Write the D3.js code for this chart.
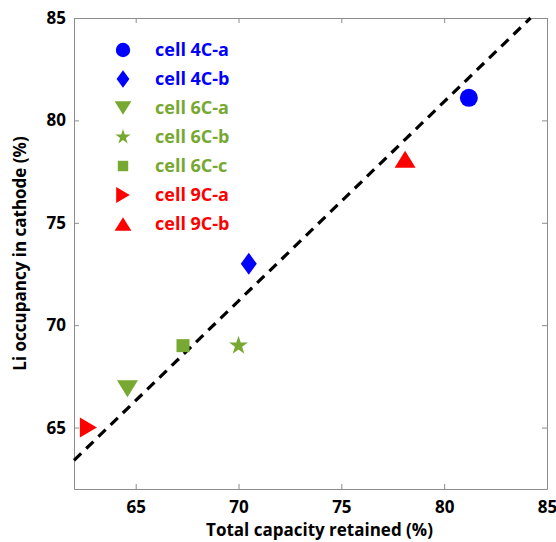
<!DOCTYPE html>
<html>
<head>
<meta charset="utf-8">
<title>Li occupancy vs capacity retained</title>
<script src="https://d3js.org/d3.v7.min.js"></script>
<style>
  body { margin: 0; background: #fff; }
  svg { font-family: "Open Sans", sans-serif; }
  .axis path, .axis line { stroke: #8c8c8c; }
  .axis text { fill: #000; font-size: 17px; font-weight: bold; font-family: "Open Sans", sans-serif; }
</style>
</head>
<body>
<script>
// values
var cells = ["cell 4C-a", "cell 4C-b", "cell 6C-a", "cell 6C-b", "cell 6C-c", "cell 9C-a", "cell 9C-b"];
var capacity = [81.2, 70.5, 64.6, 70.0, 67.3, 62.7, 78.1];   // Total capacity retained (%)
var occupancy = [81.1, 73.0, 66.9, 69.0, 69.0, 65.0, 78.1];  // Li occupancy in cathode (%)
var shapes = ["circle", "diamond", "triDown", "star", "square", "triRight", "triUp"];
var colors = ["#0000ff", "#0000ff", "#76a832", "#76a832", "#76a832", "#ff0000", "#ff0000"];
var ticks = [65, 70, 75, 80, 85];
var fitX = [62, 84.2];
var fitY = [63.4, 85];

var margin = {top: 18, right: 9, bottom: 53, left: 74},
    width = 556 - margin.left - margin.right,
    height = 542 - margin.top - margin.bottom;

var x = d3.scaleLinear().domain([62, 85]).range([0, width]);
var y = d3.scaleLinear().domain([62, 85]).range([height, 0]);

var svg = d3.select("body").append("svg")
    .attr("width", 556)
    .attr("height", 542)
  .append("g")
    .attr("transform", "translate(" + margin.left + "," + margin.top + ")");

// marker outlines, k = scale
function marker(shape, k) {
  var p = d3.path();
  if (shape == "circle") { p.arc(0, 0, 9 * k, 0, 2 * Math.PI); return p.toString(); }
  if (shape == "star") return d3.symbol(d3.symbolStar, 110 * k * k)();
  if (shape == "square") { var s = 6.5 * k; p.rect(-s, -s, 2 * s, 2 * s); return p.toString(); }
  var pts;
  if (shape == "diamond") pts = [[0, -11], [8, 0], [0, 11], [-8, 0]];
  if (shape == "triDown") pts = [[-10.5, -8.5], [10.5, -8.5], [0, 8.5]];
  if (shape == "triUp") pts = [[-10.5, 8.5], [10.5, 8.5], [0, -8.5]];
  if (shape == "triRight") pts = [[-8.5, -10], [8.5, 0], [-8.5, 10]];
  pts.forEach(function(q, i) {
    if (i == 0) p.moveTo(q[0] * k, q[1] * k); else p.lineTo(q[0] * k, q[1] * k);
  });
  p.closePath();
  return p.toString();
}

// axes with inward ticks, box on all sides
svg.append("g")
    .attr("class", "axis")
    .attr("transform", "translate(0," + height + ")")
    .call(d3.axisBottom(x).tickValues(ticks).tickSizeInner(-5).tickSizeOuter(0).tickPadding(12));
svg.append("g")
    .attr("class", "axis")
    .call(d3.axisLeft(y).tickValues(ticks).tickSizeInner(-5).tickSizeOuter(0).tickPadding(8));
svg.append("g")
    .attr("class", "axis")
    .call(d3.axisTop(x).tickValues(ticks).tickSizeInner(-5).tickSizeOuter(0).tickFormat(""));
svg.append("g")
    .attr("class", "axis")
    .attr("transform", "translate(" + width + ",0)")
    .call(d3.axisRight(y).tickValues(ticks).tickSizeInner(-5).tickSizeOuter(0).tickFormat(""));

// dashed fit line
svg.append("line")
    .attr("x1", x(fitX[0])).attr("y1", y(fitY[0]))
    .attr("x2", x(fitX[1])).attr("y2", y(fitY[1]))
    .attr("stroke", "#000")
    .attr("stroke-width", 3.2)
    .attr("stroke-dasharray", "10,7");

// data points
svg.selectAll(".pt")
    .data(cells)
  .enter().append("path")
    .attr("class", "pt")
    .attr("transform", function(d, i) { return "translate(" + x(capacity[i]) + "," + y(occupancy[i]) + ")"; })
    .attr("d", function(d, i) { return marker(shapes[i], 1); })
    .attr("fill", function(d, i) { return colors[i]; });

// legend
var legend = svg.append("g")
    .attr("transform", "translate(49,32)")
  .selectAll("g")
  .data(cells)
  .enter().append("g")
    .attr("transform", function(d, i) { return "translate(0," + i * 29 + ")"; });

legend.append("path")
    .attr("d", function(d, i) { return marker(shapes[i], 0.8); })
    .attr("fill", function(d, i) { return colors[i]; });

legend.append("text")
    .attr("x", 32)
    .attr("dy", "0.36em")
    .attr("font-size", 18)
    .attr("font-weight", "bold")
    .attr("fill", function(d, i) { return colors[i]; })
    .text(function(d) { return d; });

// axis titles
svg.append("text")
    .attr("x", width / 2 + 9)
    .attr("y", height + 47)
    .attr("text-anchor", "middle")
    .attr("font-size", 17)
    .attr("font-weight", "bold")
    .text("Total capacity retained (%)");

svg.append("text")
    .attr("transform", "translate(-48," + height / 2 + ") rotate(-90)")
    .attr("text-anchor", "middle")
    .attr("font-size", 17)
    .attr("font-weight", "bold")
    .text("Li occupancy in cathode (%)");
</script>
</body>
</html>
